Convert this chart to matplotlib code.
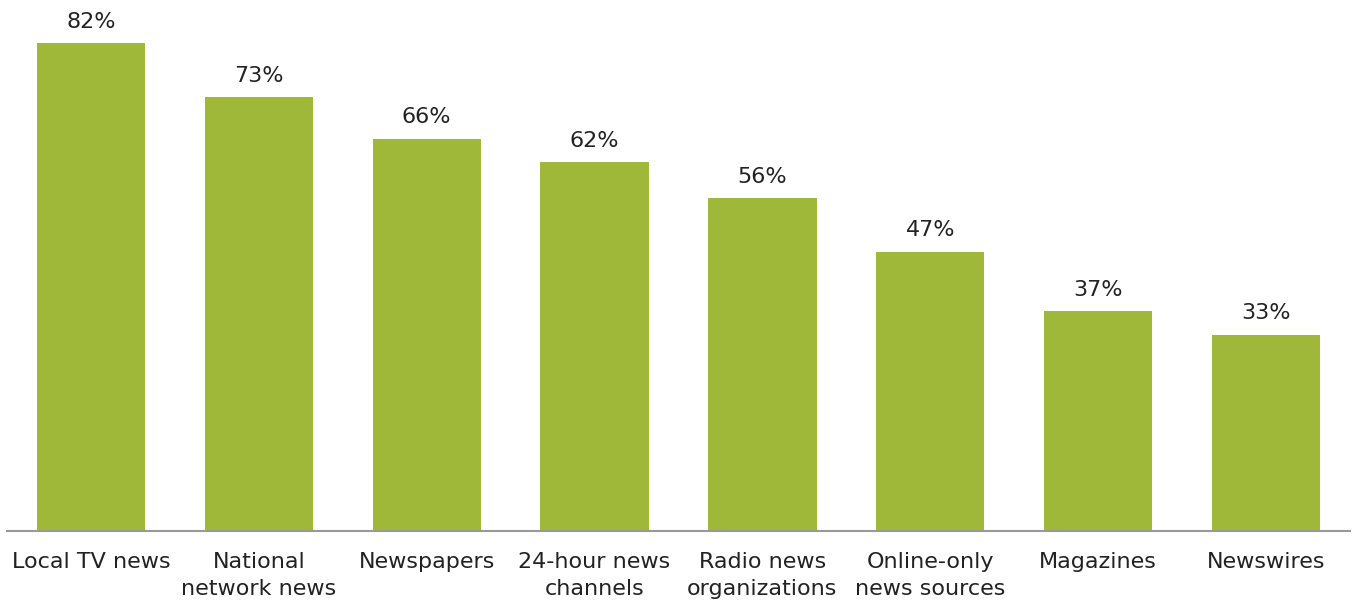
import matplotlib.pyplot as plt

# data
categories = ['Local TV news', 'National\nnetwork news', 'Newspapers', '24-hour news\nchannels',
              'Radio news\norganizations', 'Online-only\nnews sources', 'Magazines', 'Newswires']
values = [82, 73, 66, 62, 56, 47, 37, 33]

plt.rcParams['font.family'] = ['DejaVu Sans']

fig = plt.figure(figsize=(13.54, 6.03), dpi=100)
ax = fig.add_axes([7 / 1354, 1 - 531 / 603, 1343 / 1354, 531 / 603])

x = range(len(categories))
bars = ax.bar(x, values, width=0.645, color='#9fb83a')

for b, v in zip(bars, values):
    ax.text(b.get_x() + b.get_width() / 2, v + 1.9, f'{v}%', ha='center', va='bottom',
            fontsize=16, color='#222222')

ax.set_xlim(-0.5, 7.5)
ax.set_ylim(0, 89.3)
ax.set_xticks(list(x))
ax.set_xticklabels(categories, fontsize=16, color='#222222', linespacing=1.45)
ax.tick_params(axis='x', length=0, pad=15)
ax.set_yticks([])
for s in ['top', 'right', 'left']:
    ax.spines[s].set_visible(False)
ax.spines['bottom'].set_color('#999999')
ax.spines['bottom'].set_linewidth(1.5)

fig.savefig('out.png', dpi=100)
